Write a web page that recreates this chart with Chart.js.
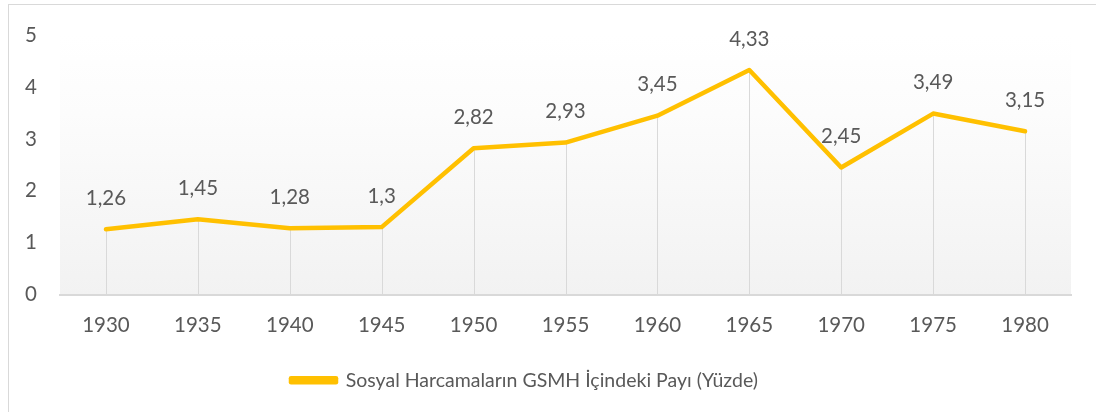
<!DOCTYPE html>
<html>
<head>
<meta charset="utf-8">
<script src="https://cdn.jsdelivr.net/npm/chart.js@4/dist/chart.umd.min.js"></script>
<style>
  body { margin: 0; background: #fff; overflow: hidden; }
  #frame { position: absolute; left: 8px; top: 4px; width: 1200px; height: 500px; border: 1px solid #d9d9d9; }
  #wrap { position: absolute; left: 0; top: 0; width: 1096px; height: 412px; }
</style>
</head>
<body>
<div id="frame"></div>
<div id="wrap"><canvas id="sosyal-chart"></canvas></div>
<script>
// yillar ve GSMH icindeki pay (yuzde)
const years = ["1930", "1935", "1940", "1945", "1950", "1955", "1960", "1965", "1970", "1975", "1980"];
const share = [1.26, 1.45, 1.28, 1.3, 2.82, 2.93, 3.45, 4.33, 2.45, 3.49, 3.15];
const seriesName = "Sosyal Harcamaların GSMH İçindeki Payı (Yüzde)";

const textColor = "#595959";
const fontFamily = "Lato, 'Open Sans', sans-serif";

// plot area background: white at top fading to light gray
const plotBackground = {
    id: "plotBackground",
    beforeDraw(chart) {
        const ctx = chart.ctx;
        const a = chart.chartArea;
        const g = ctx.createLinearGradient(0, a.top, 0, a.bottom);
        g.addColorStop(0, "#ffffff");
        g.addColorStop(0.3, "#fcfcfc");
        g.addColorStop(1, "#f2f2f2");
        ctx.save();
        ctx.fillStyle = g;
        ctx.fillRect(a.left, a.top, a.right - a.left, a.bottom - a.top);
        ctx.restore();
    }
};

// vertical drop lines from each point to the axis
const dropLines = {
    id: "dropLines",
    beforeDatasetsDraw(chart) {
        const ctx = chart.ctx;
        const meta = chart.getDatasetMeta(0);
        const yZero = chart.scales.y.getPixelForValue(0);
        ctx.save();
        ctx.strokeStyle = "#d9d9d9";
        ctx.lineWidth = 1;
        meta.data.forEach(function (pt) {
            const x = Math.round(pt.x) + 0.5;
            ctx.beginPath();
            ctx.moveTo(x, pt.y);
            ctx.lineTo(x, yZero);
            ctx.stroke();
        });
        ctx.restore();
    }
};

// value labels above points, with decimal comma
const valueLabels = {
    id: "valueLabels",
    afterDatasetsDraw(chart) {
        const ctx = chart.ctx;
        const meta = chart.getDatasetMeta(0);
        ctx.save();
        ctx.fillStyle = textColor;
        ctx.font = "20.5px " + fontFamily;
        ctx.textAlign = "center";
        ctx.textBaseline = "middle";
        meta.data.forEach(function (pt, i) {
            const txt = String(share[i]).replace(".", ",");
            ctx.fillText(txt, pt.x, pt.y - 31);
        });
        ctx.restore();
    }
};

// legend sits a bit left of the plot centre, like the original
const legendShift = {
    id: "legendShift",
    afterLayout(chart) {
        chart.legend.left -= 11;
        chart.legend.right -= 11;
    }
};

new Chart(document.getElementById("sosyal-chart"), {
    type: "line",
    data: {
        labels: years,
        datasets: [{
            label: seriesName,
            data: share,
            borderColor: "#ffc000",
            backgroundColor: "#ffc000",
            borderWidth: 4.5,
            borderCapStyle: "round",
            borderJoinStyle: "round",
            pointRadius: 0,
            pointHoverRadius: 0,
            fill: false,
            tension: 0
        }]
    },
    options: {
        responsive: true,
        maintainAspectRatio: false,
        animation: false,
        layout: {
            padding: { top: 33, right: 25, left: 0, bottom: 12 }
        },
        scales: {
            x: {
                offset: true,
                grid: { display: false, drawTicks: false },
                border: { display: true, color: "#d9d9d9", width: 2 },
                ticks: {
                    color: textColor,
                    font: { family: fontFamily, size: 20.5 },
                    padding: 19,
                    maxRotation: 0
                },
                afterFit: function (scale) { scale.height = 62; }
            },
            y: {
                min: 0,
                max: 5,
                grid: { display: false, drawTicks: false },
                border: { display: false },
                ticks: {
                    stepSize: 1,
                    color: textColor,
                    font: { family: fontFamily, size: 20.5 },
                    padding: 23
                },
                afterFit: function (scale) { scale.width = 60; }
            }
        },
        plugins: {
            legend: {
                position: "bottom",
                labels: {
                    color: textColor,
                    font: { family: fontFamily, size: 19.5 },
                    boxWidth: 45,
                    boxHeight: 4,
                    padding: 14
                }
            },
            tooltip: { enabled: false }
        }
    },
    plugins: [plotBackground, dropLines, valueLabels, legendShift]
});
</script>
</body>
</html>
